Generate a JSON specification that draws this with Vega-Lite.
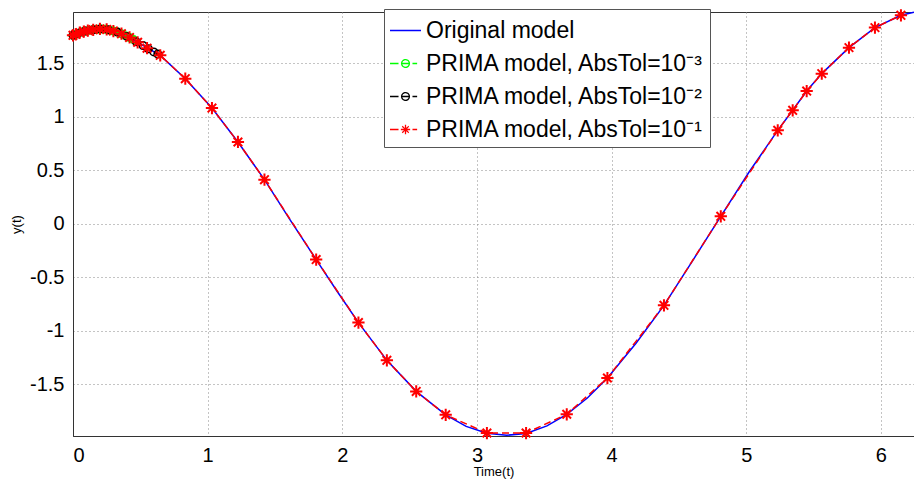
{
  "$schema": "https://vega.github.io/schema/vega-lite/v6.json",
  "width": 841,
  "height": 424,
  "autosize": {"type": "none"},
  "padding": {"left": 73, "top": 12, "right": 0, "bottom": 47},
  "background": "white",
  "config": {
    "view": {"stroke": "#333", "strokeWidth": 1},
    "font": "Liberation Sans",
    "axis": {
      "labelFont": "Liberation Sans",
      "titleFont": "Liberation Sans",
      "labelColor": "#000",
      "titleColor": "#000",
      "labelFontSize": 20,
      "titleFontSize": 13,
      "titleFontWeight": "normal",
      "domainColor": "#333",
      "ticks": false,
      "gridColor": "#888",
      "gridDash": [1, 3],
      "gridWidth": 1,
      "gridOpacity": 1
    }
  },
  "data": {
    "values": [
      {"series": "Original model", "t": 0, "y": 1.76},
      {"series": "Original model", "t": 0.1, "y": 1.80},
      {"series": "Original model", "t": 0.2, "y": 1.82},
      {"series": "Original model", "t": 0.3, "y": 1.80},
      {"series": "Original model", "t": 0.4, "y": 1.75},
      {"series": "Original model", "t": 0.5, "y": 1.68},
      {"series": "Original model", "t": 0.648, "y": 1.573},
      {"series": "Original model", "t": 0.834, "y": 1.355},
      {"series": "Original model", "t": 1.032, "y": 1.08},
      {"series": "Original model", "t": 1.225, "y": 0.763},
      {"series": "Original model", "t": 1.422, "y": 0.411},
      {"series": "Original model", "t": 1.61, "y": 0.04},
      {"series": "Original model", "t": 1.806, "y": -0.336},
      {"series": "Original model", "t": 1.96, "y": -0.63},
      {"series": "Original model", "t": 2.12, "y": -0.925},
      {"series": "Original model", "t": 2.331, "y": -1.278},
      {"series": "Original model", "t": 2.549, "y": -1.568},
      {"series": "Original model", "t": 2.768, "y": -1.787},
      {"series": "Original model", "t": 2.92, "y": -1.895},
      {"series": "Original model", "t": 3.074, "y": -1.96},
      {"series": "Original model", "t": 3.22, "y": -1.978},
      {"series": "Original model", "t": 3.365, "y": -1.962},
      {"series": "Original model", "t": 3.52, "y": -1.89},
      {"series": "Original model", "t": 3.667, "y": -1.782},
      {"series": "Original model", "t": 3.82, "y": -1.63},
      {"series": "Original model", "t": 3.969, "y": -1.443},
      {"series": "Original model", "t": 4.18, "y": -1.12},
      {"series": "Original model", "t": 4.389, "y": -0.764},
      {"series": "Original model", "t": 4.6, "y": -0.35},
      {"series": "Original model", "t": 4.811, "y": 0.068},
      {"series": "Original model", "t": 5.02, "y": 0.48},
      {"series": "Original model", "t": 5.234, "y": 0.872},
      {"series": "Original model", "t": 5.345, "y": 1.059},
      {"series": "Original model", "t": 5.449, "y": 1.239},
      {"series": "Original model", "t": 5.561, "y": 1.402},
      {"series": "Original model", "t": 5.763, "y": 1.645},
      {"series": "Original model", "t": 5.956, "y": 1.832},
      {"series": "Original model", "t": 6.149, "y": 1.947},
      {"series": "Original model", "t": 6.246, "y": 1.975},

      {"series": "PRIMA model, AbsTol=10⁻³", "t": 0, "y": 1.76},
      {"series": "PRIMA model, AbsTol=10⁻³", "t": 0.03, "y": 1.775},
      {"series": "PRIMA model, AbsTol=10⁻³", "t": 0.06, "y": 1.79},
      {"series": "PRIMA model, AbsTol=10⁻³", "t": 0.09, "y": 1.80},
      {"series": "PRIMA model, AbsTol=10⁻³", "t": 0.12, "y": 1.807},
      {"series": "PRIMA model, AbsTol=10⁻³", "t": 0.15, "y": 1.812},
      {"series": "PRIMA model, AbsTol=10⁻³", "t": 0.18, "y": 1.817},
      {"series": "PRIMA model, AbsTol=10⁻³", "t": 0.21, "y": 1.82},
      {"series": "PRIMA model, AbsTol=10⁻³", "t": 0.24, "y": 1.817},
      {"series": "PRIMA model, AbsTol=10⁻³", "t": 0.27, "y": 1.81},
      {"series": "PRIMA model, AbsTol=10⁻³", "t": 0.3, "y": 1.80},
      {"series": "PRIMA model, AbsTol=10⁻³", "t": 0.33, "y": 1.79},
      {"series": "PRIMA model, AbsTol=10⁻³", "t": 0.36, "y": 1.775},
      {"series": "PRIMA model, AbsTol=10⁻³", "t": 0.39, "y": 1.757},
      {"series": "PRIMA model, AbsTol=10⁻³", "t": 0.42, "y": 1.74},
      {"series": "PRIMA model, AbsTol=10⁻³", "t": 0.45, "y": 1.72},

      {"series": "PRIMA model, AbsTol=10⁻²", "t": 0, "y": 1.76},
      {"series": "PRIMA model, AbsTol=10⁻²", "t": 0.04, "y": 1.78},
      {"series": "PRIMA model, AbsTol=10⁻²", "t": 0.09, "y": 1.80},
      {"series": "PRIMA model, AbsTol=10⁻²", "t": 0.15, "y": 1.812},
      {"series": "PRIMA model, AbsTol=10⁻²", "t": 0.2, "y": 1.82},
      {"series": "PRIMA model, AbsTol=10⁻²", "t": 0.26, "y": 1.813},
      {"series": "PRIMA model, AbsTol=10⁻²", "t": 0.33, "y": 1.79},
      {"series": "PRIMA model, AbsTol=10⁻²", "t": 0.4, "y": 1.75},
      {"series": "PRIMA model, AbsTol=10⁻²", "t": 0.47, "y": 1.70},
      {"series": "PRIMA model, AbsTol=10⁻²", "t": 0.52, "y": 1.665},
      {"series": "PRIMA model, AbsTol=10⁻²", "t": 0.56, "y": 1.635},
      {"series": "PRIMA model, AbsTol=10⁻²", "t": 0.6, "y": 1.605},
      {"series": "PRIMA model, AbsTol=10⁻²", "t": 0.63, "y": 1.585},

      {"series": "PRIMA model, AbsTol=10⁻¹", "t": 0, "y": 1.76},
      {"series": "PRIMA model, AbsTol=10⁻¹", "t": 0.02, "y": 1.77},
      {"series": "PRIMA model, AbsTol=10⁻¹", "t": 0.05, "y": 1.785},
      {"series": "PRIMA model, AbsTol=10⁻¹", "t": 0.08, "y": 1.795},
      {"series": "PRIMA model, AbsTol=10⁻¹", "t": 0.11, "y": 1.805},
      {"series": "PRIMA model, AbsTol=10⁻¹", "t": 0.15, "y": 1.812},
      {"series": "PRIMA model, AbsTol=10⁻¹", "t": 0.2, "y": 1.82},
      {"series": "PRIMA model, AbsTol=10⁻¹", "t": 0.25, "y": 1.815},
      {"series": "PRIMA model, AbsTol=10⁻¹", "t": 0.3, "y": 1.80},
      {"series": "PRIMA model, AbsTol=10⁻¹", "t": 0.36, "y": 1.775},
      {"series": "PRIMA model, AbsTol=10⁻¹", "t": 0.42, "y": 1.74},
      {"series": "PRIMA model, AbsTol=10⁻¹", "t": 0.48, "y": 1.695},
      {"series": "PRIMA model, AbsTol=10⁻¹", "t": 0.55, "y": 1.64},
      {"series": "PRIMA model, AbsTol=10⁻¹", "t": 0.648, "y": 1.573},
      {"series": "PRIMA model, AbsTol=10⁻¹", "t": 0.834, "y": 1.355},
      {"series": "PRIMA model, AbsTol=10⁻¹", "t": 1.032, "y": 1.08},
      {"series": "PRIMA model, AbsTol=10⁻¹", "t": 1.225, "y": 0.763},
      {"series": "PRIMA model, AbsTol=10⁻¹", "t": 1.422, "y": 0.411},
      {"series": "PRIMA model, AbsTol=10⁻¹", "t": 1.806, "y": -0.336},
      {"series": "PRIMA model, AbsTol=10⁻¹", "t": 2.12, "y": -0.925},
      {"series": "PRIMA model, AbsTol=10⁻¹", "t": 2.331, "y": -1.278},
      {"series": "PRIMA model, AbsTol=10⁻¹", "t": 2.549, "y": -1.568},
      {"series": "PRIMA model, AbsTol=10⁻¹", "t": 2.768, "y": -1.787},
      {"series": "PRIMA model, AbsTol=10⁻¹", "t": 3.074, "y": -1.957},
      {"series": "PRIMA model, AbsTol=10⁻¹", "t": 3.365, "y": -1.957},
      {"series": "PRIMA model, AbsTol=10⁻¹", "t": 3.667, "y": -1.782},
      {"series": "PRIMA model, AbsTol=10⁻¹", "t": 3.969, "y": -1.443},
      {"series": "PRIMA model, AbsTol=10⁻¹", "t": 4.389, "y": -0.764},
      {"series": "PRIMA model, AbsTol=10⁻¹", "t": 4.811, "y": 0.068},
      {"series": "PRIMA model, AbsTol=10⁻¹", "t": 5.234, "y": 0.872},
      {"series": "PRIMA model, AbsTol=10⁻¹", "t": 5.345, "y": 1.059},
      {"series": "PRIMA model, AbsTol=10⁻¹", "t": 5.449, "y": 1.239},
      {"series": "PRIMA model, AbsTol=10⁻¹", "t": 5.561, "y": 1.402},
      {"series": "PRIMA model, AbsTol=10⁻¹", "t": 5.763, "y": 1.645},
      {"series": "PRIMA model, AbsTol=10⁻¹", "t": 5.956, "y": 1.832},
      {"series": "PRIMA model, AbsTol=10⁻¹", "t": 6.149, "y": 1.947}
    ]
  },
  "encoding": {
    "x": {
      "field": "t", "type": "quantitative",
      "scale": {"domain": [0, 6.246], "nice": false, "zero": false},
      "axis": {"values": [0, 1, 2, 3, 4, 5, 6], "title": "Time(t)", "labelPadding": 9, "titlePadding": 0, "labelExpr": "toString(datum.value)"}
    },
    "y": {
      "field": "y", "type": "quantitative",
      "scale": {"domain": [-1.985, 1.978], "nice": false, "zero": false},
      "axis": {"values": [-1.5, -1, -0.5, 0, 0.5, 1, 1.5], "title": "y(t)", "labelPadding": 9, "titlePadding": 6, "labelExpr": "toString(datum.value)"}
    },
    "color": {
      "field": "series", "type": "nominal",
      "scale": {
        "domain": ["Original model", "PRIMA model, AbsTol=10⁻³", "PRIMA model, AbsTol=10⁻²", "PRIMA model, AbsTol=10⁻¹"],
        "range": ["#0000ff", "#00ff00", "#000000", "#ff0000"]
      },
      "legend": {
        "orient": "none",
        "legendX": 311,
        "legendY": -3,
        "title": null,
        "padding": 5,
        "fillColor": "white",
        "strokeColor": "#555",
        "labelFont": "Liberation Sans",
        "labelFontSize": 23,
        "labelColor": "#000",
        "labelLimit": 500,
        "labelOffset": 4,
        "rowPadding": 4,
        "symbolSize": 961,
        "symbolStrokeWidth": 1.3,
        "encode": {
          "symbols": {
            "update": {
              "shape": {"signal": "datum.value === 'Original model' ? 'M-1,0L1,0' : (datum.value === 'PRIMA model, AbsTol=10⁻¹' ? 'M-1,0L-0.45,0M0.45,0L0.75,0M-0.3,0L0.3,0M0,-0.3L0,0.3M-0.21,-0.21L0.21,0.21M-0.21,0.21L0.21,-0.21' : 'M-1,0L-0.45,0M0.45,0L0.75,0M-0.25,0L0.25,0M0.25,0A0.25,0.25 0 1,1 -0.25,0A0.25,0.25 0 1,1 0.25,0')"},
              "fill": {"value": "transparent"},
              "strokeDash": {"value": [1, 0]}
            }
          }
        }
      }
    }
  },
  "layer": [
    {
      "transform": [{"filter": "datum.series === 'Original model'"}],
      "mark": {"type": "line", "strokeWidth": 1.5}
    },
    {
      "transform": [{"filter": "datum.series !== 'Original model'"}],
      "mark": {"type": "line", "strokeWidth": 1.5, "strokeDash": [7, 4]}
    },
    {
      "transform": [{"filter": "datum.series === 'PRIMA model, AbsTol=10⁻³' || datum.series === 'PRIMA model, AbsTol=10⁻²'"}],
      "mark": {"type": "point", "shape": "circle", "filled": false, "opacity": 1, "size": 55, "strokeWidth": 1.6}
    },
    {
      "transform": [{"filter": "datum.series === 'PRIMA model, AbsTol=10⁻¹'"}],
      "mark": {"type": "point", "shape": "M-1,0L1,0M0,-1L0,1M-0.7,-0.7L0.7,0.7M-0.7,0.7L0.7,-0.7", "filled": false, "opacity": 1, "size": 150, "strokeWidth": 2}
    }
  ]
}
